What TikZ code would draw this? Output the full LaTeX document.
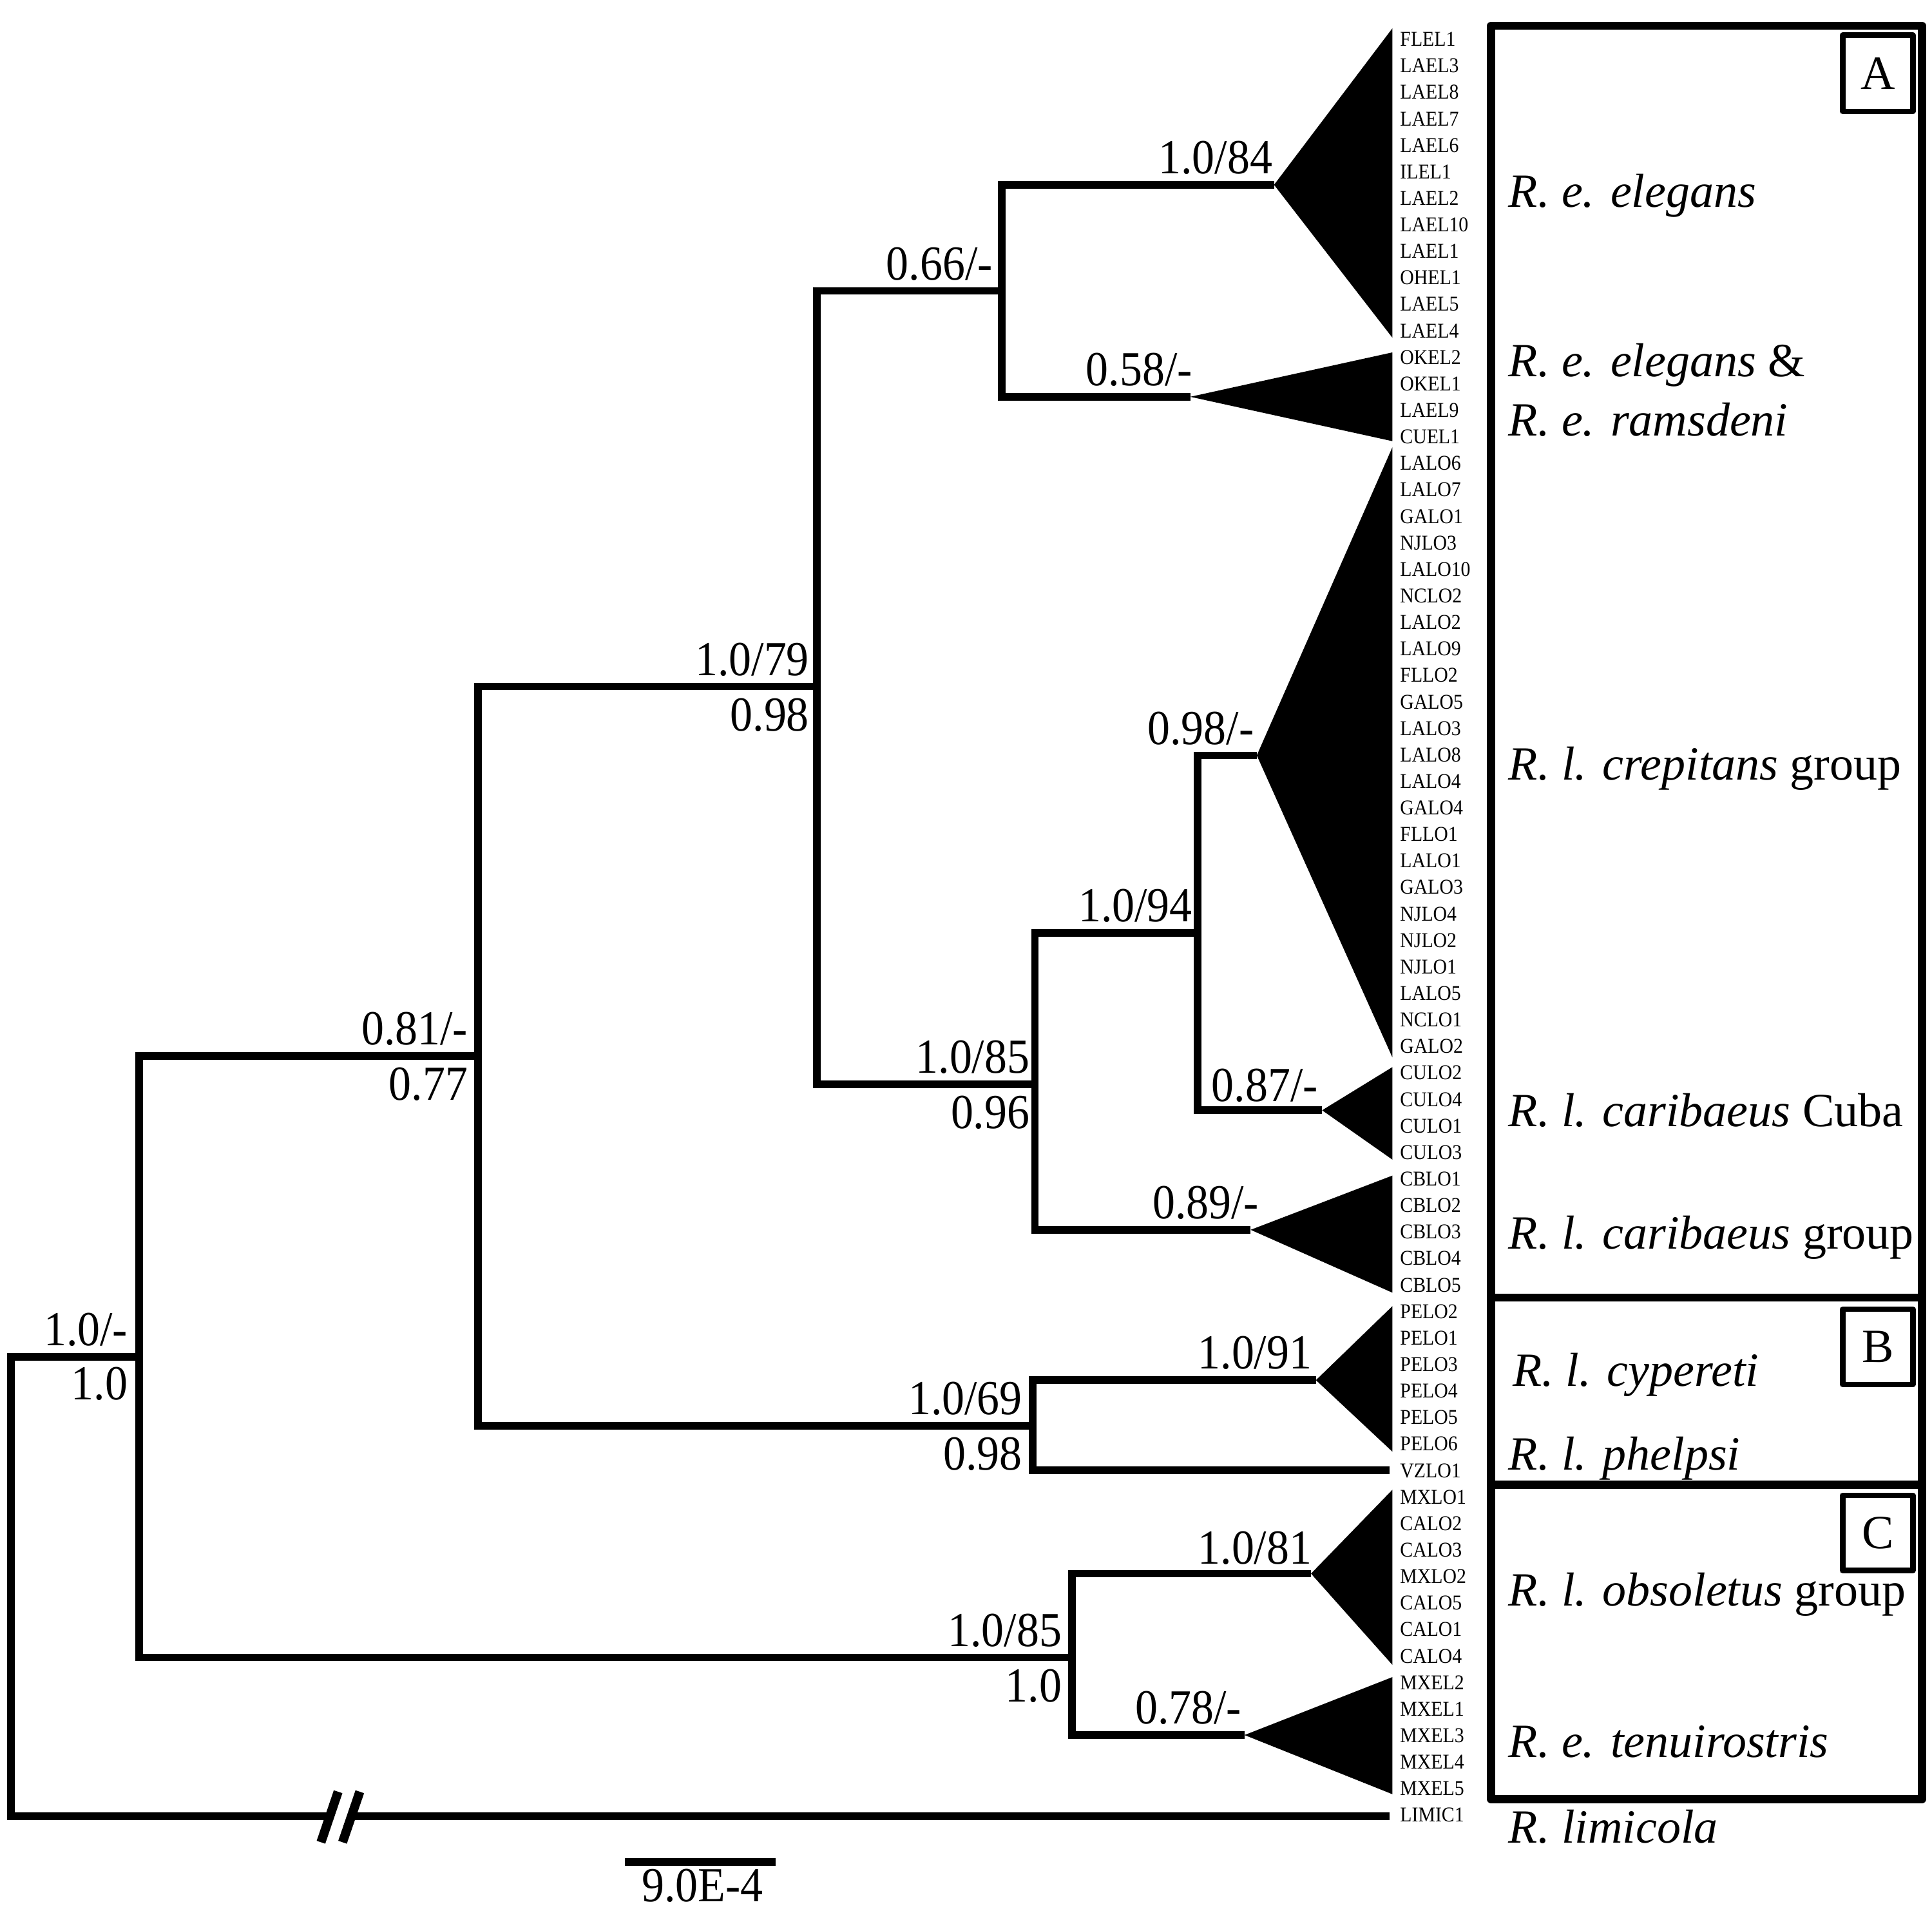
\documentclass[tikz,border=0pt]{standalone}
\usepackage{fontspec}
\setmainfont{Liberation Serif}
\newfontfamily\tipfont{Liberation Serif}[FakeStretch=0.91]
\newfontfamily\supfont{Liberation Serif}[FakeStretch=0.92]
\begin{document}
\begin{tikzpicture}[x=0.019126cm,y=-0.019126cm,
  br/.style={line width=3.3pt, line join=miter},
  clade/.style={fill=black},
  tip/.style={anchor=west, inner sep=0pt, font=\tipfont\fontsize{9.3}{10}\selectfont},
  suplab/.style={anchor=base east, inner sep=0pt, font=\supfont\fontsize{21.6}{24}\selectfont},
  splab/.style={anchor=base west, inner sep=0pt, font=\fontsize{21.05}{24}\selectfont},
  grpbox/.style={line width=3.56pt, line join=round},
  letbox/.style={draw, line width=2.45pt, line join=round},
  brk/.style={line width=4pt},
  sbar/.style={line width=3.4pt}]
\useasboundingbox (0,0) rectangle (1568,1549);

% internal nodes
\coordinate (R) at (9,1300);
\coordinate (N1) at (113,1101);
\coordinate (N2) at (388,857);
\coordinate (Nobs) at (870,1345);
\coordinate (N3) at (663,557);
\coordinate (NB) at (838,1157);
\coordinate (N5) at (813,236);
\coordinate (N6) at (840,880);
\coordinate (N7) at (972,757);
% clade apices / tip ends
\coordinate (EL) at (1034,150);
\coordinate (OK) at (966,322);
\coordinate (LO) at (1020,613);
\coordinate (CU) at (1073,901);
\coordinate (CB) at (1015,998);
\coordinate (PE) at (1068,1120);
\coordinate (VZ) at (1128,1193);
\coordinate (MXL) at (1064,1277);
\coordinate (MXE) at (1010,1408);
\coordinate (LIM) at (1128,1474);
\coordinate (B1) at (267.6,1474);
\coordinate (B2) at (285.2,1474);

% collapsed clades
\fill[clade] (EL) -- (1130,23) -- (1130,274) -- cycle;
\fill[clade] (OK) -- (1130,286) -- (1130,358) -- cycle;
\fill[clade] (LO) -- (1130,363) -- (1130,858) -- cycle;
\fill[clade] (CU) -- (1130,866) -- (1130,941) -- cycle;
\fill[clade] (CB) -- (1130,954) -- (1130,1049) -- cycle;
\fill[clade] (PE) -- (1130,1060) -- (1130,1178) -- cycle;
\fill[clade] (MXL) -- (1130,1209) -- (1130,1351) -- cycle;
\fill[clade] (MXE) -- (1130,1361) -- (1130,1456) -- cycle;

% branches
\draw[br] (N1) -| (R) |- (B1);
\draw[br] (B2) -- (LIM);
\draw[br] (N2) -| (N1) |- (Nobs);
\draw[br] (N3) -| (N2) |- (NB);
\draw[br] (N5) -| (N3) |- (N6);
\draw[br] (EL) -| (N5) |- (OK);
\draw[br] (N7) -| (N6) |- (CB);
\draw[br] (LO) -| (N7) |- (CU);
\draw[br] (PE) -| (NB) |- (VZ);
\draw[br] (MXL) -| (Nobs) |- (MXE);

% break mark
\draw[brk] (260.5,1495) -- (274.4,1454);
\draw[brk] (278,1495) -- (292,1454);

% support values
\node[suplab] (s1) at (104,1092) {1.0/-};
\node[suplab] (s1b) at (104,1136) {1.0};
\node[suplab] (s2) at (380,848) {0.81/-};
\node[suplab] (s2b) at (380,893) {0.77};
\node[suplab] (s3) at (862,1336) {1.0/85};
\node[suplab] (s3b) at (862,1381) {1.0};
\node[suplab] (s4) at (657,548) {1.0/79};
\node[suplab] (s4b) at (657,593) {0.98};
\node[suplab] (s5) at (830,1148) {1.0/69};
\node[suplab] (s5b) at (830,1193) {0.98};
\node[suplab] (s6) at (806,227) {0.66/-};
\node[suplab] (s7) at (836,871) {1.0/85};
\node[suplab] (s7b) at (836,916) {0.96};
\node[suplab] (s8) at (1033,141) {1.0/84};
\node[suplab] (s9) at (968,313) {0.58/-};
\node[suplab] (s10) at (968,748) {1.0/94};
\node[suplab] (s11) at (1022,989) {0.89/-};
\node[suplab] (s12) at (1018,604) {0.98/-};
\node[suplab] (s13) at (1070,894) {0.87/-};
\node[suplab] (s14) at (1065,1111) {1.0/91};
\node[suplab] (s15) at (1065,1269) {1.0/81};
\node[suplab] (s16) at (1008,1399) {0.78/-};

% tip labels
\foreach \lab [count=\i from 0] in {FLEL1,LAEL3,LAEL8,LAEL7,LAEL6,ILEL1,LAEL2,LAEL10,LAEL1,OHEL1,LAEL5,LAEL4,OKEL2,OKEL1,LAEL9,CUEL1,LALO6,LALO7,GALO1,NJLO3,LALO10,NCLO2,LALO2,LALO9,FLLO2,GALO5,LALO3,LALO8,LALO4,GALO4,FLLO1,LALO1,GALO3,NJLO4,NJLO2,NJLO1,LALO5,NCLO1,GALO2,CULO2,CULO4,CULO1,CULO3,CBLO1,CBLO2,CBLO3,CBLO4,CBLO5,PELO2,PELO1,PELO3,PELO4,PELO5,PELO6,VZLO1,MXLO1,CALO2,CALO3,MXLO2,CALO5,CALO1,CALO4,MXEL2,MXEL1,MXEL3,MXEL4,MXEL5,LIMIC1}
  \node[tip] (t\i) at (1136,{31.8+21.51*\i}) {\lab};

% group boxes
\draw[grpbox] (1210,21) rectangle (1560,1460);
\draw[grpbox] (1210,1053) -- (1560,1053);
\draw[grpbox] (1210,1205) -- (1560,1205);
\node[letbox, minimum width=57*0.019126cm, minimum height=62*0.019126cm, inner sep=0pt, font=\fontsize{21.05}{24}\selectfont] (bA) at (1524,59.5) {A};
\node[letbox, minimum width=57*0.019126cm, minimum height=61*0.019126cm, inner sep=0pt, font=\fontsize{21.05}{24}\selectfont] (bB) at (1524,1093) {B};
\node[letbox, minimum width=57*0.019126cm, minimum height=61*0.019126cm, inner sep=0pt, font=\fontsize{21.05}{24}\selectfont] (bC) at (1524,1244) {C};

% taxon labels
\node[splab] (g1) at (1224,168) {\textit{R. e. elegans}};
\node[splab] (g2) at (1224,305.7) {\textit{R. e. elegans} \&};
\node[splab] (g3) at (1224,353.5) {\textit{R. e. ramsdeni}};
\node[splab] (g4) at (1224,633) {\textit{R. l. crepitans} group};
\node[splab] (g5) at (1224,914) {\textit{R. l. caribaeus} Cuba};
\node[splab] (g6) at (1224,1013.4) {\textit{R. l. caribaeus} group};
\node[splab] (g7) at (1227.6,1124.7) {\textit{R. l. cypereti}};
\node[splab] (g8) at (1224,1192.6) {\textit{R. l. phelpsi}};
\node[splab] (g9) at (1224,1303) {\textit{R. l. obsoletus} group};
\node[splab] (g10) at (1224,1426) {\textit{R. e. tenuirostris}};
\node[splab] (g11) at (1224,1495.5) {\textit{R. limicola}};

% scale bar
\coordinate (sb1) at (507,1511);
\coordinate (sb2) at (629.5,1511);
\draw[sbar] (sb1) -- (sb2);
\node[suplab, anchor=base] (sbl) at (570,1543) {9.0E-4};
\end{tikzpicture}
\end{document}
